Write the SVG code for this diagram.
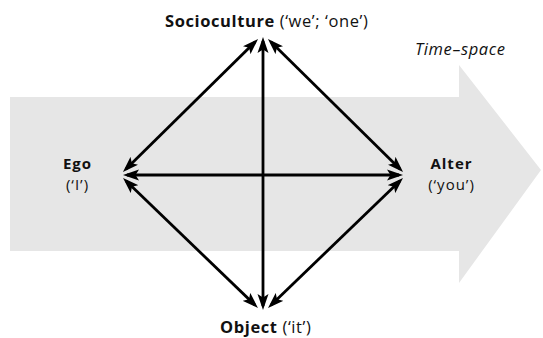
<svg xmlns="http://www.w3.org/2000/svg" width="543" height="338" viewBox="0 0 543 338">
<style>
.t{font-family:"Open Sans","Noto Sans",sans-serif;font-size:16.5px;letter-spacing:0.6px;fill:#111;}
.s{font-size:15px;letter-spacing:1px;}
.b{font-weight:bold;}
.i{font-style:italic;}
.c{stroke:#000;stroke-width:2.8;fill:none;marker-start:url(#ah);marker-end:url(#ah);}
</style>
<defs>
<marker id="ah" markerUnits="userSpaceOnUse" markerWidth="17" markerHeight="12" refX="12" refY="6" orient="auto-start-reverse" viewBox="0 0 17 12">
<path d="M0,0.5 L16,6 L0,11.5 L3.5,6 Z" fill="#000"/>
</marker>
</defs>
<rect width="543" height="338" fill="#fff"/>
<g id="timespace">
<polygon points="10,97 459,97 459,65 541,170 459,283 459,251 10,251" fill="#e6e6e6"/>
<text class="t i" x="415" y="55" font-size="15" letter-spacing="0.5">Time–space</text>
</g>
<g id="connectors">
<path class="c" d="M263,41 L263,306"/>
<path class="c" d="M127,175 L399,175"/>
<path class="c" d="M255.2,41.8 L125.8,169.2"/>
<path class="c" d="M270.8,41.8 L400.2,169.2"/>
<path class="c" d="M125.9,180.8 L255.1,305.2"/>
<path class="c" d="M400.1,180.8 L270.9,305.2"/>
</g>
<g id="socioculture">
<text class="t" x="165" y="27"><tspan class="b">Socioculture</tspan> (‘we’; ‘one’)</text>
</g>
<g id="ego">
<text class="t s b" x="77.5" y="168.5" text-anchor="middle">Ego</text>
<text class="t s" x="77.5" y="189.5" text-anchor="middle">(‘I’)</text>
</g>
<g id="alter">
<text class="t s b" x="451.5" y="168.5" text-anchor="middle">Alter</text>
<text class="t s" x="451.5" y="189.5" text-anchor="middle">(‘you’)</text>
</g>
<g id="object">
<text class="t" x="220" y="333"><tspan class="b">Object</tspan> (‘it’)</text>
</g>
</svg>
